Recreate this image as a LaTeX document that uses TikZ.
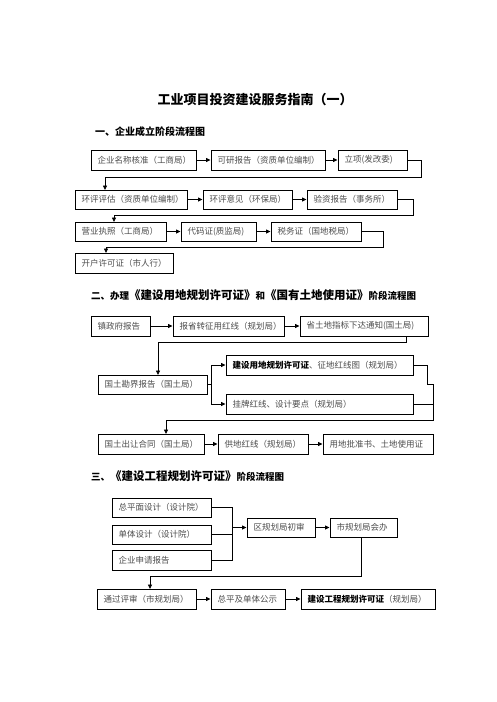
\documentclass[tikz,border=0pt]{standalone}
\usepackage{fontspec}
\setmainfont{Noto Sans CJK SC}
\usetikzlibrary{arrows.meta}
\begin{document}
\begin{tikzpicture}[x=1pt,y=-1pt,
  box/.style={draw=black,line width=1pt,inner sep=0pt,text=black!70,align=left,font=\fontsize{8.5}{9}\selectfont},
  arr/.style={line width=0.8pt,-{Triangle[length=4.5pt,width=4pt]}},
  ln/.style={line width=0.8pt},
  hd/.style={anchor=west,inner sep=0pt,font=\bfseries\fontsize{10}{12}\selectfont}]
\useasboundingbox (0,0) rectangle (496,702);
\newcommand\bx[6]{\node[box,minimum width={#3-#2},text width={#3-#2-13},minimum height={#5-#4}] (#1) at ({(#2+#3)/2},{(#4+#5)/2}) {#6};}
\node[inner sep=0pt,font=\bfseries\fontsize{13}{15}\selectfont] (title) at (255,100) {工业项目投资建设服务指南（一）};
\node[hd] (h1) at (95,132) {一、企业成立阶段流程图};
% section 1
\bx{a1}{91}{196}{150}{170}{企业名称核准（工商局）}
\bx{a2}{211}{325}{150}{170}{可研报告（资质单位编制）}
\bx{a3}{338}{407}{150}{170}{立项(发改委)}
\bx{b1}{75}{187}{190}{209}{环评评估（资质单位编制）}
\bx{b2}{203}{292}{190}{209}{环评意见（环保局）}
\bx{b3}{307}{397}{190}{209}{验资报告（事务所）}
\bx{c1}{75}{166}{222}{241}{营业执照（工商局）}
\bx{c2}{181}{256}{222}{241}{代码证(质监局)}
\bx{c3}{271}{361}{222}{241}{税务证（国地税局）}
\bx{d1}{75}{173}{253}{273}{开户许可证（市人行）}
\draw[arr] (a1) -- (a2);
\draw[arr] (a2) -- (a3);
\draw[arr] (a3.east) -- (421,160) -- (421,177) -- (105,177) -- (105,190);
\draw[arr] (b1) -- (b2);
\draw[arr] (b2) -- (b3);
\draw[arr] (b3.east) -- (413,199.5) -- (413,215) -- (114,215) -- (114,222);
\draw[arr] (c1) -- (c2);
\draw[arr] (c2) -- (c3);
\draw[arr] (c3.east) -- (383,231.5) -- (383,247) -- (106,247) -- (106,253);
% section 2
\node[hd] (h2) at (91,295) {\fontsize{9.5}{12}\selectfont 二、办理\fontsize{11.5}{13}\selectfont《建设用地规划许可证》\fontsize{9.5}{12}\selectfont 和\fontsize{11.5}{13}\selectfont《国有土地使用证》\fontsize{9.5}{12}\selectfont 阶段流程图};
\bx{e1}{91}{150}{316}{336}{镇政府报告}
\bx{e2}{173}{284}{316}{336}{报省转征用红线（规划局）}
\bx{e3}{300}{428}{316}{336}{省土地指标下达通知(国土局)}
\bx{f1}{98}{207}{375}{394}{国土勘界报告（国土局）}
\bx{g1}{226}{413}{355}{375}{\textcolor{black}{\bfseries 建设用地规划许可证}、征地红线图（规划局）}
\bx{g2}{226}{413}{394}{414}{挂牌红线、设计要点（规划局）}
\bx{k1x}{98}{204}{434}{454}{国土出让合同（国土局）}
\bx{k2x}{218}{308}{434}{454}{供地红线（规划局）}
\bx{k3x}{323}{433}{434}{454}{用地批准书、土地使用证}
\draw[arr] (e1) -- (e2);
\draw[arr] (e2) -- (e3);
\draw[arr] (406,336) -- (406,342) -- (158,342) -- (158,375);
\draw[arr] (f1.east) -- (211,384.5) |- (g1.west);
\draw[arr] (211,384.5) |- (g2.west);
\draw[ln] (g1.east) -- (427,365) -- (427,384) -- (433,384) -- (433,404);
\draw[ln] (g2.east) -- (433,404);
\draw[arr] (433,404) -- (433,420) -- (166,420) -- (166,434);
\draw[arr] (k1x) -- (k2x);
\draw[arr] (k2x) -- (k3x);
% section 3
\node[hd] (h3) at (91,476) {\fontsize{9.5}{12}\selectfont 三、\fontsize{11.5}{13}\selectfont《建设工程规划许可证》\fontsize{9.5}{12}\selectfont 阶段流程图};
\bx{i1}{112}{211}{498}{517}{总平面设计（设计院）}
\bx{i2}{112}{211}{525}{544}{单体设计（设计院）}
\bx{i3}{112}{211}{550}{570}{企业申请报告}
\bx{j1}{247}{315}{518}{537}{区规划局初审}
\bx{j2}{330}{397}{518}{537}{市规划局会办}
\bx{m1}{97}{196}{589}{609}{通过评审（市规划局）}
\bx{m2}{211}{285}{589}{609}{总平及单体公示}
\bx{m3}{301}{435}{589}{609}{\textcolor{black}{\bfseries 建设工程规划许可证}（规划局）}
\coordinate (bt) at (232,507.5);
\coordinate (bb) at (232,560);
\draw[ln] (i1.east) -- (bt) -- (bb) -- (i3.east);
\draw[ln] (i2.east) -- (232,534.5);
\draw[arr] (232,527.5) -- (j1.west);
\draw[arr] (j1) -- (j2);
\draw[arr] (361,537) -- (361,576) -- (150,576) -- (150,589);
\draw[arr] (m1) -- (m2);
\draw[arr] (m2) -- (m3);
\end{tikzpicture}
\end{document}
